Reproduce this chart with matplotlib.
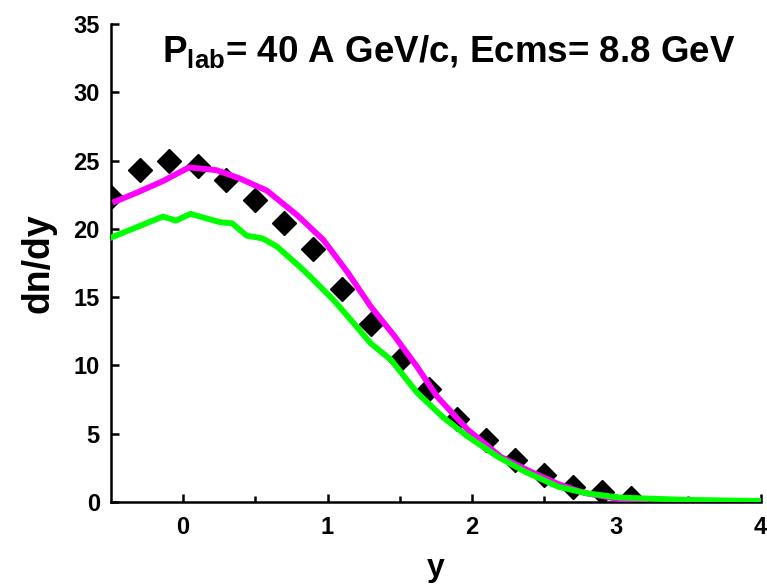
import matplotlib
matplotlib.use("Agg")
import matplotlib.pyplot as plt

plt.rcParams['font.family'] = ['Liberation Sans', 'DejaVu Sans']
plt.rcParams['font.weight'] = 'bold'
plt.rcParams['mathtext.fontset'] = 'custom'
plt.rcParams['mathtext.rm'] = 'Liberation Sans:bold'
plt.rcParams['mathtext.it'] = 'Liberation Sans:bold'
plt.rcParams['mathtext.bf'] = 'Liberation Sans:bold'

# experimental points (diamonds)
data_y = [-0.5, -0.3, -0.1, 0.1, 0.3, 0.5, 0.7, 0.9, 1.1, 1.3,
          1.5, 1.7, 1.9, 2.1, 2.3, 2.5, 2.7, 2.9, 3.1]
data_dndy = [22.3, 24.3, 25.0, 24.6, 23.6, 22.1, 20.4, 18.5, 15.6, 13.0,
             10.4, 8.3, 6.1, 4.5, 3.1, 2.0, 1.1, 0.7, 0.3]

# magenta model curve
mag_y = [-0.47, -0.31, -0.14, 0.04, 0.23, 0.39, 0.58, 0.79, 0.97, 1.14,
         1.30, 1.46, 1.62, 1.76, 1.97, 2.20, 2.41, 2.60, 2.78, 3.02, 3.2]
mag_dndy = [22.0, 22.7, 23.5, 24.5, 24.3, 23.7, 22.8, 21.0, 19.2, 16.8,
            14.3, 12.2, 9.9, 7.7, 5.3, 3.3, 2.2, 1.3, 0.65, 0.2, 0.1]

# green model curve
grn_y = [-0.49, -0.14, -0.05, 0.05, 0.25, 0.34, 0.44, 0.55, 0.65, 0.81,
         0.88, 1.04, 1.18, 1.30, 1.44, 1.62, 1.80, 1.97, 2.18, 2.37,
         2.60, 2.79, 3.02, 3.48, 4.0]
grn_dndy = [19.4, 20.9, 20.6, 21.1, 20.5, 20.4, 19.5, 19.3, 18.7, 17.2,
            16.5, 14.8, 13.1, 11.6, 10.4, 8.0, 6.2, 4.8, 3.3, 2.2,
            1.1, 0.64, 0.32, 0.15, 0.07]

fig = plt.figure(figsize=(7.67, 5.87), dpi=100)
ax = fig.add_axes([0.1447, 0.145, 0.847, 0.814])

ax.plot(data_y, data_dndy, 'D', color='black', markersize=12, zorder=2)
ax.plot(mag_y, mag_dndy, '-', color='#ff00ff', lw=4.2, zorder=3)
ax.plot(grn_y, grn_dndy, '-', color='#00ff00', lw=4.2, zorder=4)

ax.set_xlim(-0.5, 4)
ax.set_ylim(0, 35)
ax.set_xticks([0, 1, 2, 3, 4])
ax.set_xticks([0.5, 1.5, 2.5, 3.5], minor=True)
ax.set_yticks(range(0, 36, 5))

for side in ['top', 'right']:
    ax.spines[side].set_visible(False)
for side in ['left', 'bottom']:
    ax.spines[side].set_linewidth(1.8)

ax.tick_params(axis='both', which='major', direction='in', length=6, width=1.8,
               labelsize=17, pad=8)
ax.tick_params(axis='x', which='minor', direction='in', length=4, width=1.8)
ax.tick_params(axis='x', which='major', pad=10)

ax.set_xlabel('y', fontsize=23, fontweight='bold', labelpad=10)
ax.set_ylabel('dn/dy', fontsize=27, fontweight='bold', labelpad=12)

ax.text(-0.147, 32.2, r'P$_{\mathrm{lab}}$= 40 A GeV/c, Ecms= 8.8 GeV',
        fontsize=26.5, fontweight='bold', ha='left', va='baseline')

fig.savefig('out.png', dpi=100)
